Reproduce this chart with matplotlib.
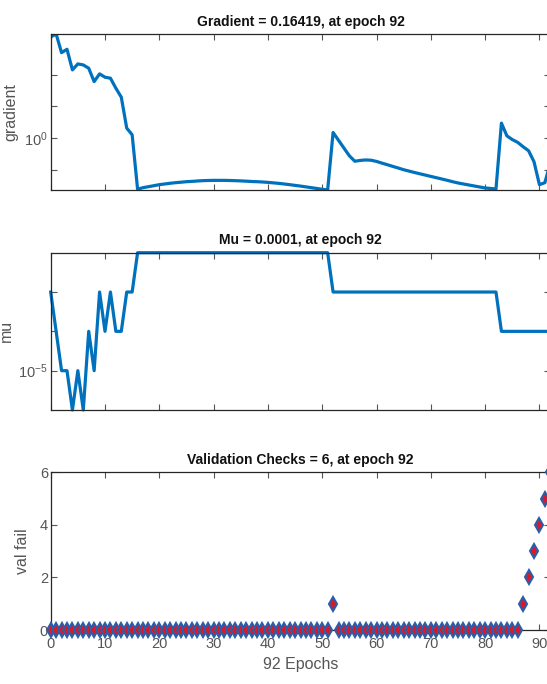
import matplotlib
matplotlib.use("Agg")
import matplotlib.pyplot as plt
import numpy as np

plt.rcParams['font.family'] = ['Liberation Sans', 'DejaVu Sans']
plt.rcParams['mathtext.fontset'] = 'custom'
plt.rcParams['mathtext.rm'] = 'Liberation Sans'
plt.rcParams['mathtext.it'] = 'Liberation Sans:italic'

# ---------------- data ----------------
epochs = list(range(0, 93))

gradient = [
    1587, 1974, 507, 649, 144, 223, 207, 163, 61.4, 108,
    84.6, 78.7, 38.0, 19.7, 2.07, 1.27, 0.0241, 0.0269, 0.0289, 0.0311,
    0.0335, 0.0352, 0.0371, 0.0387, 0.0401, 0.0416, 0.0425, 0.0438, 0.0448, 0.0454,
    0.0458, 0.0458, 0.0458, 0.0454, 0.0448, 0.0441, 0.0432, 0.0422, 0.0416, 0.0407,
    0.0396, 0.0382, 0.0368, 0.0352, 0.0335, 0.0318, 0.0302, 0.0285, 0.0269, 0.0254,
    0.0239, 0.0228, 1.503, 0.852, 0.483, 0.274, 0.185, 0.196, 0.203, 0.199,
    0.1823, 0.1611, 0.1433, 0.1267, 0.1127, 0.0996, 0.0900, 0.0813, 0.0739, 0.0673,
    0.0612, 0.0557, 0.0507, 0.0461, 0.0416, 0.0379, 0.0352, 0.0327, 0.0304, 0.0283,
    0.0263, 0.0254, 0.0245, 2.98, 1.18, 0.897, 0.731, 0.531, 0.397, 0.178,
    0.0335, 0.0387, 0.16419,
]

mu = ([1e-3, 1e-4, 1e-5, 1e-5, 1e-6, 1e-5, 1e-6, 1e-4, 1e-5, 1e-3,
       1e-4, 1e-3, 1e-4, 1e-4, 1e-3, 1e-3]
      + [1e-2] * 36      # epochs 16..51
      + [1e-3] * 31      # epochs 52..82
      + [1e-4] * 10)     # epochs 83..92

val_fail = [0] * 52 + [1] + [0] * 34 + [1, 2, 3, 4, 5, 6]

titles = ["Gradient = 0.16419, at epoch 92",
          "Mu = 0.0001, at epoch 92",
          "Validation Checks = 6, at epoch 92"]
ylabels = ["gradient", "mu", "val fail"]
xlabel = "92 Epochs"
xticks = list(range(0, 100, 10))

# ---------------- style ----------------
W, H = 547, 684
fig = plt.figure(figsize=(W / 100, H / 100), dpi=100)
blue = '#0072BD'
red = '#D9192B'
gray = '#555555'

left = 50.7 / W
width = (550.3 - 50.7) / W

def pos(top, bottom):
    return [left, 1 - bottom / H, width, (bottom - top) / H]

ax1 = fig.add_axes(pos(34, 190))
ax2 = fig.add_axes(pos(252.7, 410))
ax3 = fig.add_axes(pos(472.3, 630))

for ax in (ax1, ax2, ax3):
    ax.set_xlim(0, 92)
    ax.set_xticks(xticks)
    ax.tick_params(direction='in', top=True, right=True, length=4, width=0.8,
                   colors=gray, labelsize=10.5, pad=2)
    ax.tick_params(axis='x', pad=5)
    ax.minorticks_off()
    for s in ax.spines.values():
        s.set_color('#262626')
        s.set_linewidth(0.9)

# gradient
ax1.semilogy(epochs, gradient, color=blue, lw=2.3, solid_joinstyle='round')
ax1.set_ylim(0.0227, 1975)
ax1.set_yticks([0.1, 1, 10, 100])
ax1.set_yticklabels(['', '$10^{0}$', '', ''])
ax1.minorticks_off()
ax1.set_xticklabels([])

# mu
ax2.semilogy(epochs, mu, color=blue, lw=2.3, solid_joinstyle='round', clip_on=False)
ax2.set_ylim(1e-6, 1e-2)
ax2.set_yticks([1e-5, 1e-4, 1e-3])
ax2.set_yticklabels(['$10^{-5}$', '', ''])
ax2.minorticks_off()
ax2.set_xticklabels([])

# validation
ax3.plot(epochs, val_fail, linestyle='none', marker='d', markersize=7.6,
         markerfacecolor=red, markeredgecolor='#2B5EA8', markeredgewidth=1.5,
         clip_on=False, zorder=5)
ax3.set_ylim(0, 6)
ax3.set_yticks([0, 2, 4, 6])
ax3.set_xticklabels([str(t) for t in xticks])
ax3.set_xlabel(xlabel, fontsize=11.5, color=gray, labelpad=4)

label_x = {"gradient": (18 - 50.7) / 499.6,
           "mu": (14 - 50.7) / 499.6,
           "val fail": (30 - 50.7) / 499.6}

for ax, t, yl in zip((ax1, ax2, ax3), titles, ylabels):
    ax.set_title(t, fontsize=10, fontweight='bold', color='#111111', pad=6)
    ax.set_ylabel(yl, fontsize=11.5, color=gray)
    ax.yaxis.set_label_coords(label_x[yl], 0.5)

fig.savefig('out.png', dpi=100)
